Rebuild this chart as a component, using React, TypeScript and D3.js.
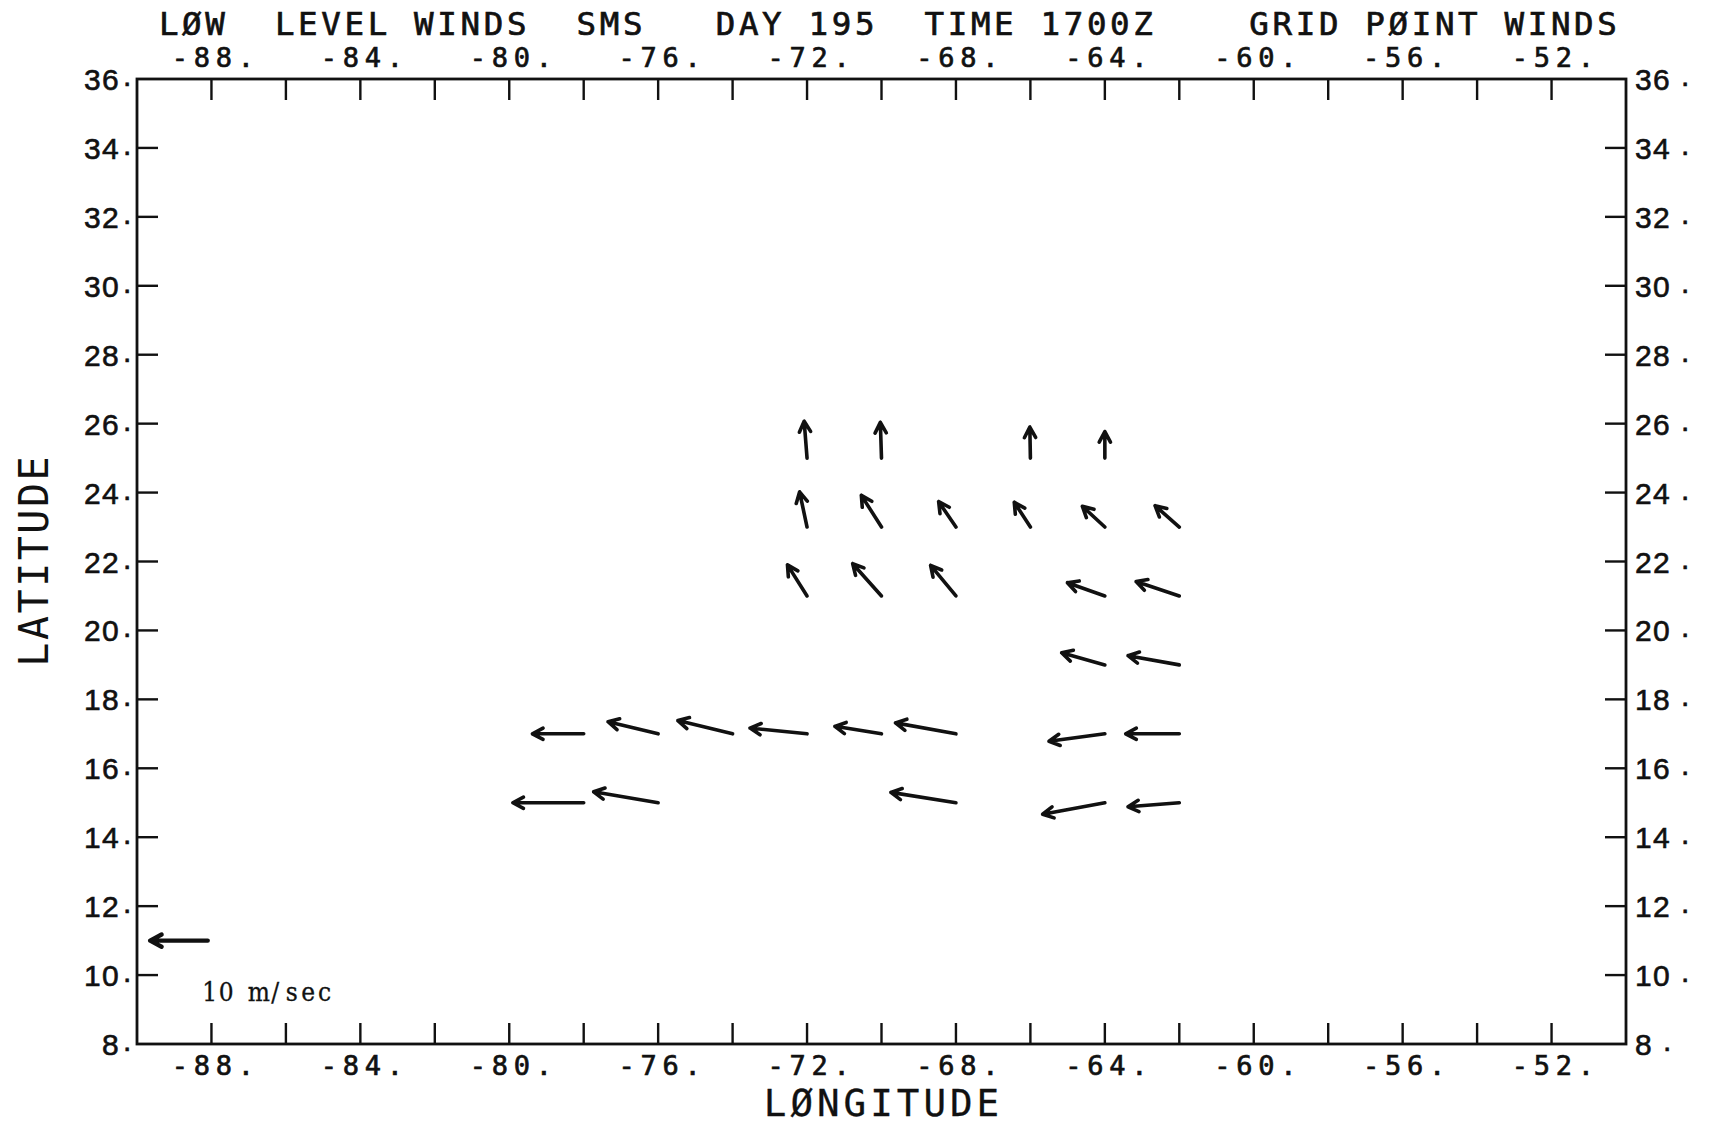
import React from 'react';
import * as d3 from 'd3';

// ---- chart text ----
const TITLE = 'LØW  LEVEL WINDS  SMS   DAY 195  TIME 1700Z    GRID PØINT WINDS';
const X_TITLE = 'LØNGITUDE';
const Y_TITLE = 'LATITUDE';
const REF_LABEL = '10 m/sec';

// ---- axes ----
const LON_DOMAIN = [-90, -50];
const LAT_DOMAIN = [8, 36];
const lonTicks = d3.range(-88, -50, 2);
const lonLabels = d3.range(-88, -50, 4);
const latTicks = d3.range(10, 36, 2);
const latLabels = d3.range(8, 37, 2);

// ---- grid point winds (m/s); u eastward, v northward ----
const gridLon = [
  -72, -70, -66, -64,
  -72, -70, -68, -66, -64, -62,
  -72, -70, -68, -64, -62,
  -64, -62,
  -78, -76, -74, -72, -70, -68, -64, -62,
  -78, -76, -68, -64, -62,
];
const gridLat = [
  25, 25, 25, 25,
  23, 23, 23, 23, 23, 23,
  21, 21, 21, 21, 21,
  19, 19,
  17, 17, 17, 17, 17, 17, 17, 17,
  15, 15, 15, 15, 15,
];
const windU = [
  -0.5, -0.2, -0.1, 0.0,
  -1.3, -3.5, -3.0, -2.8, -3.9, -4.2,
  -3.4, -5.0, -4.4, -6.5, -7.5,
  -7.5, -8.9,
  -8.9, -8.7, -9.5, -9.9, -8.1, -10.5, -9.7, -9.3,
  -12.3, -11.2, -11.3, -10.8, -8.9,
];
const windV = [
  6.4, 6.2, 5.4, 4.6,
  6.1, 5.5, 4.4, 4.3, 3.6, 3.7,
  5.4, 5.6, 5.3, 2.3, 2.5,
  2.1, 1.6,
  0.0, 2.1, 2.3, 1.0, 1.3, 1.9, -1.3, 0.0,
  0.0, 1.9, 1.8, -2.0, -0.7,
];

// reference vector
const REF_SPEED = 10;
const REF_LON = -88.1;
const REF_LAT = 11;

// ---- layout ----
const W = 1712;
const H = 1125;
const plot = { left: 137, right: 1626, top: 79, bottom: 1044 };
const INK = '#111';
const PLOTTER_FONT = "'DejaVu Sans Mono', 'Liberation Mono', monospace";
const LABEL_FONT = "'Liberation Sans', Arial, sans-serif";

const x = d3.scaleLinear().domain(LON_DOMAIN).range([plot.left, plot.right]);
const y = d3.scaleLinear().domain(LAT_DOMAIN).range([plot.bottom, plot.top]);
const speedPx = d3.scaleLinear().domain([0, 10]).range([0, 57.6]);

// fixed-pitch character centres, as a plotter would lay them out
function cells(n: number, first: number, pitch: number): string {
  return d3.range(n).map((i) => (first + i * pitch).toFixed(1)).join(' ');
}

function arrowPath(tx: number, ty: number, hx: number, hy: number, barb: number): string {
  const a = Math.atan2(hy - ty, hx - tx);
  const spread = (28 * Math.PI) / 180;
  const p = d3.path();
  p.moveTo(tx, ty);
  p.lineTo(hx, hy);
  p.moveTo(hx - barb * Math.cos(a - spread), hy - barb * Math.sin(a - spread));
  p.lineTo(hx, hy);
  p.lineTo(hx - barb * Math.cos(a + spread), hy - barb * Math.sin(a + spread));
  return p.toString();
}

function PlotterText(props: {
  text: string;
  cx: number;
  y: number;
  pitch: number;
  size: number;
  weight?: number;
}) {
  const { text, cx, y: baseY, pitch, size, weight = 0.7 } = props;
  const n = text.length;
  const first = cx - ((n - 1) / 2) * pitch;
  return (
    <text
      x={cells(n, first, pitch)}
      y={baseY}
      textAnchor="middle"
      fontFamily={PLOTTER_FONT}
      fontSize={size}
      fill={INK}
      stroke={weight > 0 ? INK : 'none'}
      strokeWidth={weight}
      xmlSpace="preserve"
      style={{ whiteSpace: 'pre' }}
    >
      {text}
    </text>
  );
}

function latLabelChars(v: number, side: 'left' | 'right', baseY: number) {
  const s = `${v}.`;
  const digits = s.length - 1;
  const pitch = 18;
  let xs: number[] = [];
  if (side === 'right') {
    const x0 = plot.right + 9;
    xs = d3.range(digits).map((i) => x0 + i * pitch);
    xs.push(xs[xs.length - 1] + 28);
  } else {
    const dotX = plot.left - 14;
    const lastX = dotX - 21;
    xs = d3.range(digits).map((i) => lastX - (digits - 1 - i) * pitch);
    xs.push(dotX);
  }
  const ys = xs.map((_, i) => (i === digits ? baseY - 4 : baseY));
  return (
    <text
      key={`${side}-${v}`}
      x={xs.map((d) => d.toFixed(1)).join(' ')}
      y={ys.map((d) => d.toFixed(1)).join(' ')}
      fontFamily={LABEL_FONT}
      fontSize={30}
      fill={INK}
      stroke={INK}
      strokeWidth={0.6}
    >
      {s}
    </text>
  );
}

export default function App() {
  const tickLen = 21;
  const plotCx = (plot.left + plot.right) / 2;
  const plotCy = (plot.top + plot.bottom) / 2;
  const k = speedPx(1);

  const vectors = gridLon.map((lon, i) => {
    const tx = x(lon);
    const ty = y(gridLat[i]);
    const hx = tx + windU[i] * k;
    const hy = ty - windV[i] * k;
    return { tx, ty, hx, hy };
  });

  const refTx = x(REF_LON);
  const refTy = y(REF_LAT);
  const refHx = refTx - speedPx(REF_SPEED);

  return (
    <svg
      width={W}
      height={H}
      viewBox={`0 0 ${W} ${H}`}
      style={{ position: 'absolute', left: 0, top: 0, background: '#fff' }}
    >
      <rect x={0} y={0} width={W} height={H} fill="#fff" />

      {/* title */}
      <PlotterText text={TITLE} cx={168.7 + ((TITLE.length - 1) / 2) * 23.2} y={34.5} pitch={23.2} size={32.5} />

      {/* frame */}
      <rect
        x={plot.left}
        y={plot.top}
        width={plot.right - plot.left}
        height={plot.bottom - plot.top}
        fill="none"
        stroke={INK}
        strokeWidth={2.8}
      />

      {/* ticks on all four sides, pointing inward */}
      <g stroke={INK} strokeWidth={2.4}>
        {lonTicks.map((t) => (
          <g key={`lt-${t}`}>
            <line x1={x(t)} x2={x(t)} y1={plot.top} y2={plot.top + tickLen} />
            <line x1={x(t)} x2={x(t)} y1={plot.bottom} y2={plot.bottom - tickLen} />
          </g>
        ))}
        {latTicks.map((t) => (
          <g key={`at-${t}`}>
            <line x1={plot.left} x2={plot.left + tickLen} y1={y(t)} y2={y(t)} />
            <line x1={plot.right} x2={plot.right - tickLen} y1={y(t)} y2={y(t)} />
          </g>
        ))}
      </g>

      {/* longitude labels */}
      {lonLabels.map((t) => (
        <g key={`ll-${t}`}>
          <PlotterText text={`${t}.`} cx={x(t) + 1.5} y={67} pitch={22} size={27} />
          <PlotterText text={`${t}.`} cx={x(t) + 1.5} y={1075} pitch={22} size={27} />
        </g>
      ))}

      {/* latitude labels */}
      {latLabels.map((v) => latLabelChars(v, 'left', y(v) + 11))}
      {latLabels.map((v) => latLabelChars(v, 'right', y(v) + 11))}

      {/* axis titles */}
      <PlotterText text={X_TITLE} cx={plotCx} y={1116} pitch={26.6} size={37.5} weight={0.3} />
      <g transform={`translate(48, ${plotCy}) rotate(-90)`}>
        <PlotterText text={Y_TITLE} cx={0} y={0} pitch={26.6} size={40} weight={0} />
      </g>

      {/* wind vectors */}
      <g fill="none" stroke={INK} strokeWidth={3.6} strokeLinecap="round" strokeLinejoin="round">
        {vectors.map((v, i) => (
          <path key={`w-${i}`} d={arrowPath(v.tx, v.ty, v.hx, v.hy, 12)} />
        ))}
      </g>

      {/* reference vector */}
      <path
        d={arrowPath(refTx, refTy, refHx, refTy, 13)}
        fill="none"
        stroke={INK}
        strokeWidth={4.4}
        strokeLinecap="round"
        strokeLinejoin="round"
      />
      <text
        x={cells(REF_LABEL.length, refTx + 2, 16.4)}
        y={refTy + 60}
        textAnchor="middle"
        fontFamily="'DejaVu Serif Condensed', 'DejaVu Serif', serif"
        fontSize={26}
        fill={INK}
        stroke={INK}
        strokeWidth={0.3}
        xmlSpace="preserve"
        style={{ whiteSpace: 'pre' }}
      >
        {REF_LABEL}
      </text>
    </svg>
  );
}
